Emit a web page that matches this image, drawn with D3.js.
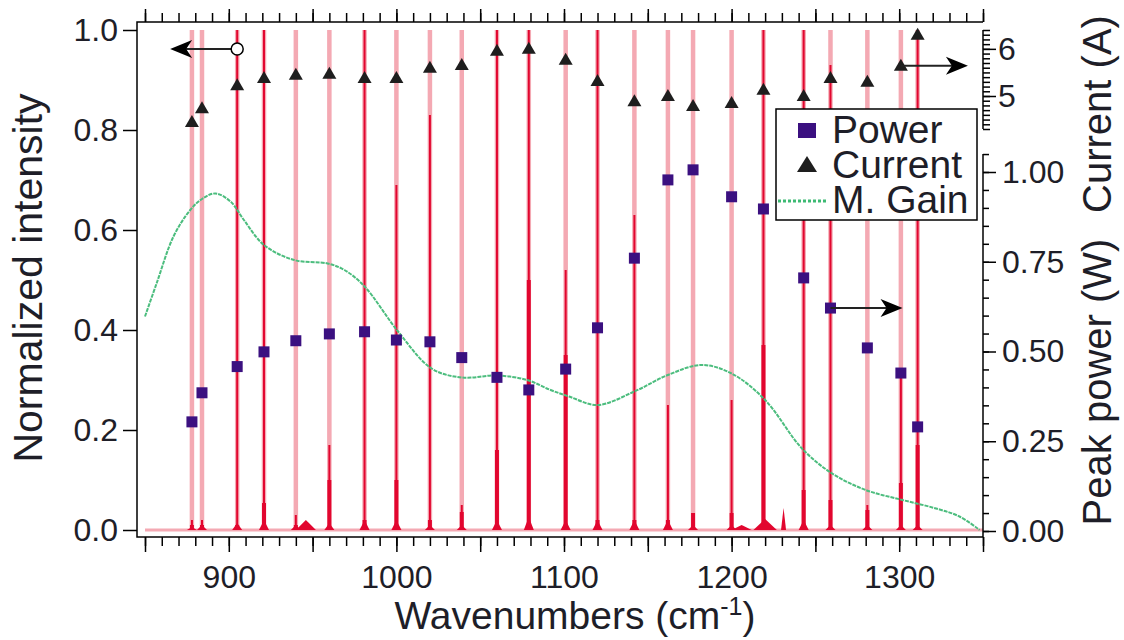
<!DOCTYPE html>
<html>
  <head>
    <meta charset="utf-8" />
    <script src="https://d3js.org/d3.v7.min.js"></script>
    <style>
      body { margin: 0; background: #fff; }
      text { font-family: "Liberation Sans", Arial, sans-serif; fill: #1e1e28; }
      .tick line { stroke: #000; stroke-width: 1.5; }
      .frame { stroke: #000; stroke-width: 1.5; fill: none; }
    </style>
  </head>
  <body>
    <div id="chart"></div>
    <script type="text/javascript">

      var w = 1124, h = 640;

      var wavenumbers = [878, 884, 905, 921, 940, 960, 981, 1000, 1020, 1039, 1060, 1079,
                         1101, 1120, 1142, 1162, 1177, 1200, 1219, 1243, 1259, 1281, 1301, 1311];
      var power = [0.304, 0.385, 0.458, 0.499, 0.530, 0.549, 0.555, 0.532, 0.527, 0.483, 0.428, 0.393,
                   0.451, 0.566, 0.760, 0.978, 1.006, 0.931, 0.897, 0.705, 0.621, 0.510, 0.440, 0.290];
      var current = [4.45, 4.74, 5.23, 5.38, 5.45, 5.47, 5.38, 5.38, 5.60, 5.66, 5.96, 6.00,
                     5.77, 5.32, 4.89, 5.00, 4.79, 4.85, 5.13, 5.00, 5.38, 5.30, 5.64, 6.30];

      // spectrum shape per line: dark core height, thick part, foot
      var coreH = [0.02, 0.02, 1, 1, 0.03, 0.17, 1, 0.69, 0.83, 0.05, 1, 1,
                   0.52, 1, 0.63, 0.25, 0.03, 0.26, 1, 1, 0.93, 0.05, 0.32, 1];
      var thickH = [0.01, 0.01, 0.01, 0.054, 0.01, 0.1, 0.02, 0.1, 0.02, 0.036, 0.16, 0.5,
                    0.35, 0.02, 0.02, 0.02, 0.034, 0.034, 0.37, 0.08, 0.06, 0.04, 0.094, 0.17];
      var footH = [0.006, 0.01, 0.014, 0.02, 0.01, 0.014, 0.02, 0.02, 0.01, 0.01, 0.02, 0.026,
                   0.02, 0.02, 0.02, 0.02, 0.01, 0.01, 0.02, 0.02, 0.01, 0.01, 0.01, 0.01];

      // small side bumps in the spectra
      var bumpWn = [946, 1206, 1220, 1231];
      var bumpH = [0.02, 0.01, 0.022, 0.044];
      var bumpHalf = [6, 6, 7, 1.5];

      // modal gain curve
      var gainWn = [850, 857, 867, 877, 884, 892, 901, 909, 921, 939, 959, 969, 981, 1001, 1021, 1039,
                    1060, 1078, 1092, 1103, 1120, 1142, 1162, 1182, 1200, 1220, 1242, 1260, 1280,
                    1302, 1322, 1336, 1348];
      var gainI = [0.427, 0.494, 0.587, 0.640, 0.662, 0.673, 0.657, 0.620, 0.570, 0.540, 0.533, 0.520,
                   0.487, 0.397, 0.323, 0.305, 0.309, 0.300, 0.280, 0.267, 0.250, 0.277, 0.310, 0.330,
                   0.313, 0.260, 0.163, 0.113, 0.080, 0.060, 0.043, 0.027, 0.0];

      var xTicksMajor = d3.range(850, 1351, 50);
      var xTicksMinor = d3.range(850, 1351, 10);
      var intensityTicks = [0, 0.2, 0.4, 0.6, 0.8, 1.0];
      var powerTicks = [0, 0.25, 0.5, 0.75, 1.0];
      var currentTicks = [5, 6];

      var x = d3.scaleLinear().domain([850, 1350]).range([145, 983]);
      var yI = d3.scaleLinear().domain([0, 1]).range([530, 30]);
      var yP = d3.scaleLinear().domain([0, 1]).range([531, 172]);
      var yC = d3.scaleLinear().domain([4.3, 6.4]).range([129, 30]);

      var pink = "#f4a9b3", red = "#e2062f";

      var svg = d3.select("#chart").append("svg").attr("width", w).attr("height", h);

      // baseline of the spectra
      svg.append("line").attr("x1", x(850)).attr("x2", x(1350))
        .attr("y1", yI(0)).attr("y2", yI(0))
        .attr("stroke", pink).attr("stroke-width", 3);

      var lines = svg.append("g");
      lines.selectAll("line.pk").data(wavenumbers).enter().append("line")
        .attr("x1", d => x(d)).attr("x2", d => x(d))
        .attr("y1", yI(0)).attr("y2", yI(1))
        .attr("stroke", pink).attr("stroke-width", 4.5);
      lines.selectAll("line.core").data(wavenumbers).enter().append("line")
        .attr("x1", d => x(d)).attr("x2", d => x(d))
        .attr("y1", yI(0)).attr("y2", (d, i) => yI(coreH[i]))
        .attr("stroke", red).attr("stroke-width", 2);
      lines.selectAll("line.thick").data(wavenumbers).enter().append("line")
        .attr("x1", d => x(d)).attr("x2", d => x(d))
        .attr("y1", yI(0)).attr("y2", (d, i) => yI(thickH[i]))
        .attr("stroke", red).attr("stroke-width", 4);
      lines.selectAll("path.foot").data(wavenumbers).enter().append("path")
        .attr("fill", red)
        .attr("d", (d, i) => "M" + x(d - 3) + "," + yI(0) + "L" + x(d) + "," + yI(footH[i]) +
          "L" + x(d + 3) + "," + yI(0) + "Z");
      lines.selectAll("path.bump").data(bumpWn).enter().append("path")
        .attr("fill", red)
        .attr("d", (d, i) => "M" + x(d - bumpHalf[i]) + "," + yI(0) + "L" + x(d) + "," + yI(bumpH[i]) +
          "L" + x(d + bumpHalf[i]) + "," + yI(0) + "Z");

      // modal gain
      var gainLine = d3.line().x(d => x(d[0])).y(d => yI(d[1])).curve(d3.curveCatmullRom);
      svg.append("path").datum(gainWn.map((d, i) => [d, gainI[i]]))
        .attr("d", gainLine).attr("fill", "none")
        .attr("stroke", "#4cbd7e").attr("stroke-width", 2).attr("stroke-dasharray", "4,1");

      // markers
      svg.selectAll("rect.pw").data(wavenumbers).enter().append("rect")
        .attr("x", d => x(d) - 5.5).attr("y", (d, i) => yP(power[i]) - 5.5)
        .attr("width", 11).attr("height", 11).attr("fill", "#3b1080");
      svg.selectAll("path.cur").data(wavenumbers).enter().append("path")
        .attr("transform", (d, i) => "translate(" + x(d) + "," + yC(current[i]) + ")")
        .attr("d", "M0,-7L7,5L-7,5Z").attr("fill", "#1e1e1e");

      // axes
      function styleAxis(g) {
        g.select(".domain").remove();
        g.selectAll("text").attr("font-size", 32).attr("font-family", "Liberation Sans, Arial, sans-serif")
          .style("fill", "#1e1e28");
      }
      svg.append("g").attr("transform", "translate(0,537)")
        .call(d3.axisBottom(x).tickValues(xTicksMinor).tickSize(9).tickFormat(""))
        .call(styleAxis);
      svg.append("g").attr("transform", "translate(0,537)")
        .call(d3.axisBottom(x).tickValues(xTicksMajor).tickSize(15).tickPadding(13)
          .tickFormat(d => d % 100 === 0 ? d : ""))
        .call(styleAxis);
      svg.append("g").attr("transform", "translate(0,22)")
        .call(d3.axisTop(x).tickValues(xTicksMinor).tickSize(9).tickFormat(""))
        .call(styleAxis);
      svg.append("g").attr("transform", "translate(0,22)")
        .call(d3.axisTop(x).tickValues(xTicksMajor).tickSize(13).tickFormat(""))
        .call(styleAxis);
      svg.append("g").attr("transform", "translate(137,0)")
        .call(d3.axisLeft(yI).tickValues(intensityTicks).tickSize(14).tickPadding(5)
          .tickFormat(d3.format(".1f")))
        .call(styleAxis);
      svg.append("g").attr("transform", "translate(983,0)")
        .call(d3.axisRight(yP).tickValues(d3.range(0, 1.051, 0.05)).tickSize(6).tickFormat(""))
        .call(styleAxis);
      svg.append("g").attr("transform", "translate(983,0)")
        .call(d3.axisRight(yP).tickValues(powerTicks).tickSize(13).tickPadding(6)
          .tickFormat(d3.format(".2f")))
        .call(styleAxis);
      svg.append("g").attr("transform", "translate(983,0)")
        .call(d3.axisRight(yC).tickValues(d3.range(4.3, 6.45, 0.1)).tickSize(7).tickFormat(""))
        .call(styleAxis);
      svg.append("g").attr("transform", "translate(983,0)")
        .call(d3.axisRight(yC).tickValues(currentTicks).tickSize(13).tickPadding(2)
          .tickFormat(d3.format("d")))
        .call(styleAxis);

      // frame lines
      svg.append("path").attr("class", "frame")
        .attr("d", "M983,22H137V537H983");
      svg.append("line").attr("class", "frame")
        .attr("x1", 983).attr("x2", 983).attr("y1", yC(6.4)).attr("y2", yC(4.3));
      svg.append("line").attr("class", "frame")
        .attr("x1", 983).attr("x2", 983).attr("y1", yP(1.05)).attr("y2", 537);

      // axis titles
      svg.append("text").attr("transform", "translate(42,278) rotate(-90)")
        .attr("text-anchor", "middle").attr("font-size", 41).text("Normalized intensity");
      svg.append("text").attr("transform", "translate(1111,114) rotate(-90)")
        .attr("text-anchor", "middle").attr("font-size", 40).text("Current (A)");
      svg.append("text").attr("transform", "translate(1111,382) rotate(-90)")
        .attr("text-anchor", "middle").attr("font-size", 40).text("Peak power (W)");
      var xt = svg.append("text").attr("x", 575).attr("y", 629)
        .attr("text-anchor", "middle").attr("font-size", 39);
      xt.append("tspan").text("Wavenumbers (cm");
      xt.append("tspan").attr("font-size", 25).attr("dy", -14).text("-1");
      xt.append("tspan").attr("dy", 14).text(")");

      // arrows pointing to the axes
      var arrows = [
        { x1: 905, x2: 865, y: yI(0.962), circle: true },
        { x1: 1301, x2: 1341, y: yC(5.64), circle: false },
        { x1: 1259, x2: 1302, y: yP(0.621), circle: false }
      ];
      arrows.forEach(function(a) {
        var dir = a.x2 > a.x1 ? 1 : -1;
        var tip = x(a.x2);
        svg.append("line").attr("x1", x(a.x1)).attr("x2", tip - dir * 14)
          .attr("y1", a.y).attr("y2", a.y).attr("stroke", "#222").attr("stroke-width", 2);
        svg.append("path").attr("fill", "#000")
          .attr("transform", "translate(" + tip + "," + a.y + ") scale(" + dir + ",1)")
          .attr("d", "M0,0L-22,-9L-16,0L-22,9Z");
        if (a.circle) {
          svg.append("circle").attr("cx", x(a.x1)).attr("cy", a.y).attr("r", 6)
            .attr("fill", "#fff").attr("stroke", "#000").attr("stroke-width", 1.5);
        }
      });

      // legend
      var lg = svg.append("g");
      lg.append("rect").attr("x", 776).attr("y", 109).attr("width", 201).attr("height", 111)
        .attr("fill", "#fff").attr("stroke", "#000").attr("stroke-width", 1.5);
      lg.append("rect").attr("x", 798).attr("y", 123).attr("width", 18).attr("height", 15).attr("fill", "#3b1080");
      lg.append("path").attr("d", "M807,156L817,172L797,172Z").attr("fill", "#1e1e1e");
      lg.append("line").attr("x1", 778).attr("x2", 828).attr("y1", 201).attr("y2", 201)
        .attr("stroke", "#3dba74").attr("stroke-width", 3).attr("stroke-dasharray", "3,2");
      var labels = ["Power", "Current", "M. Gain"];
      lg.selectAll("text").data(labels).enter().append("text")
        .attr("x", 832).attr("y", (d, i) => 143 + i * 35)
        .attr("font-size", 39).text(d => d);

    </script>
  </body>
</html>
